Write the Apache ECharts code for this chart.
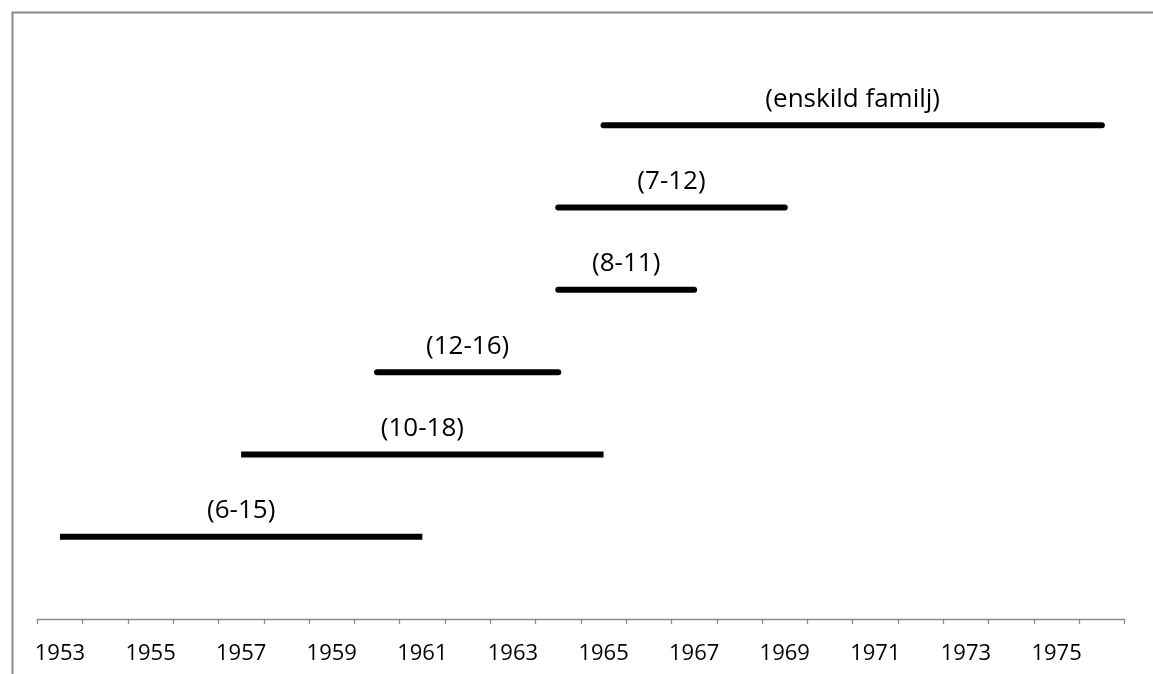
<!DOCTYPE html>
<html>
<head>
<meta charset="utf-8">
<script src="https://cdn.jsdelivr.net/npm/echarts@6/dist/echarts.min.js"></script>
<style>
html,body{margin:0;padding:0;background:#fff;}
#chart{width:1153px;height:674px;}
</style>
</head>
<body>
<div id="chart"></div>
<script>
// Category (year) ticks along the x axis
const years = ['1953','1954','1955','1956','1957','1958','1959','1960','1961','1962','1963','1964',
  '1965','1966','1967','1968','1969','1970','1971','1972','1973','1974','1975','1976'];
// Periods (bottom to top)
const periodLabels = ['(6-15)', '(10-18)', '(12-16)', '(8-11)', '(7-12)', '(enskild familj)'];
const startYears = [1953, 1957, 1960, 1964, 1964, 1965];
const endYears   = [1961, 1965, 1964, 1967, 1969, 1976];

const FONT = '"Open Sans"';
const seriesData = periodLabels.map((l, i) => [startYears[i], endYears[i], i + 1, l]);

const chart = echarts.init(document.getElementById('chart'), null, {renderer: 'canvas'});
chart.setOption({
  backgroundColor: '#ffffff',
  animation: false,
  graphic: [{
    type: 'rect',
    left: 10, top: 10,
    shape: {width: 1400, height: 900},
    style: {fill: 'none', stroke: '#898989', lineWidth: 2},
    silent: true, z: -1
  }],
  grid: {left: 37.3, right: 28.5, top: 43, bottom: 55},
  xAxis: [{
    type: 'category',
    data: years,
    boundaryGap: true,
    axisLine: {show: true, lineStyle: {color: '#8a8a8a', width: 1.3}},
    axisTick: {show: true, interval: 0, alignWithLabel: false, length: 5, lineStyle: {color: '#8a8a8a', width: 1.3}},
    axisLabel: {interval: 1, color: '#000', fontFamily: FONT, fontSize: 22, margin: 24},
    splitLine: {show: false}
  }, {
    type: 'value',
    min: 1952.5, max: 1976.5,
    show: false
  }],
  yAxis: {
    type: 'value', min: 0, max: 7, show: false
  },
  series: [{
    type: 'custom',
    xAxisIndex: 1,
    data: seriesData,
    encode: {x: [0, 1], y: 2},
    renderItem: function (params, api) {
      const p0 = api.coord([api.value(0), api.value(2)]);
      const p1 = api.coord([api.value(1), api.value(2)]);
      const label = periodLabels[params.dataIndex];
      const cap = params.dataIndex < 2 ? 'butt' : 'round';
      return {
        type: 'group',
        children: [{
          type: 'line',
          shape: {x1: p0[0], y1: p0[1], x2: p1[0], y2: p1[1]},
          style: {stroke: '#000', lineWidth: 6, lineCap: cap}
        }, {
          type: 'text',
          style: {
            x: (p0[0] + p1[0]) / 2, y: p0[1] - 26,
            text: label, fill: '#000',
            font: '26px ' + FONT,
            textAlign: 'center', textVerticalAlign: 'middle'
          }
        }]
      };
    }
  }]
});
</script>
</body>
</html>
